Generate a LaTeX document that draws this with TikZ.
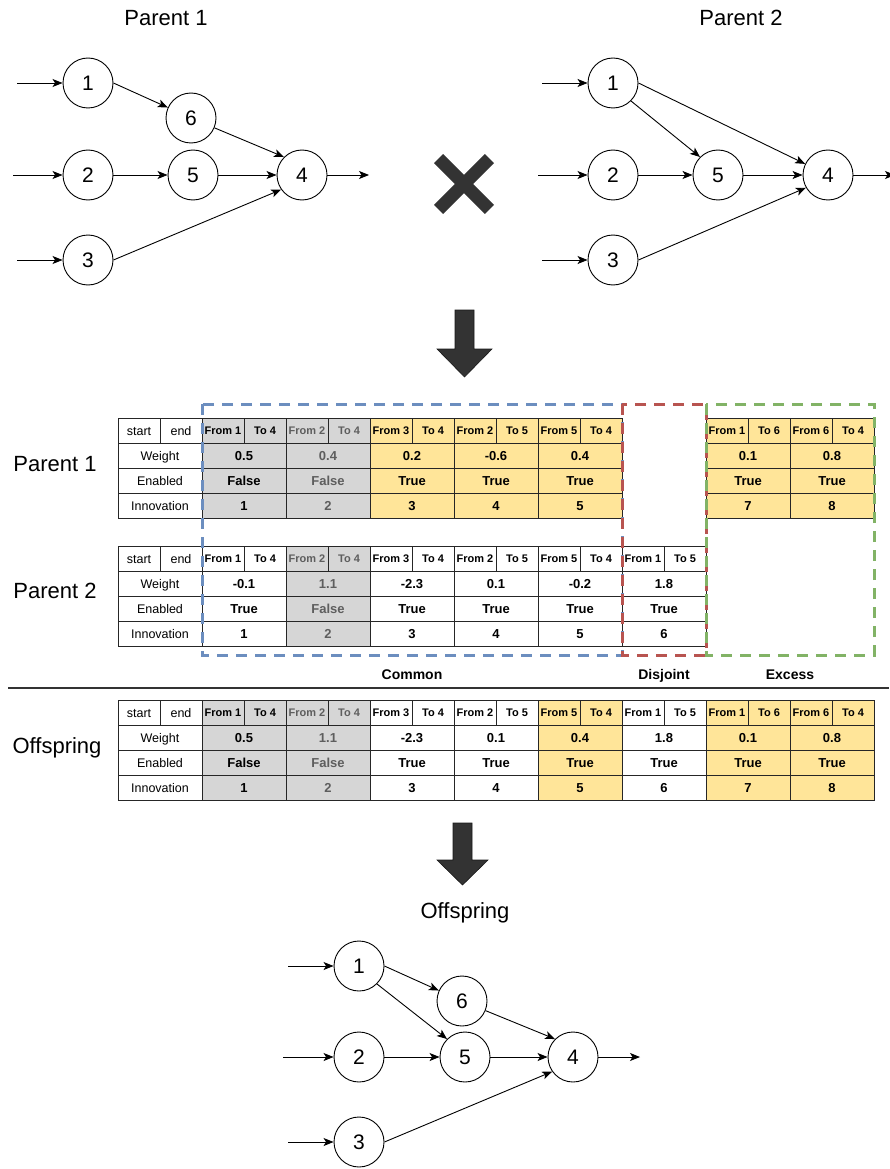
\documentclass[tikz,border=0pt]{standalone}
\usepackage{fontspec}
\setmainfont{Liberation Sans}
\usetikzlibrary{arrows.meta}
\definecolor{cgray}{HTML}{D6D6D6}
\definecolor{cyel}{HTML}{FFE599}
\definecolor{gtext}{HTML}{5E5E5E}
\definecolor{dblue}{HTML}{6C8EBF}
\definecolor{dred}{HTML}{B85450}
\definecolor{dgreen}{HTML}{82B366}
\definecolor{dark}{HTML}{333333}

\tikzset{
 neuron/.style={circle, draw=black, line width=0.9pt, minimum size=50pt, inner sep=0pt, font=\fontsize{21}{24}\selectfont, fill=white},
 link/.style={draw=black, line width=0.9pt, -{Stealth[length=10pt,width=8pt,inset=2.5pt]}},
 title/.style={font=\fontsize{22}{26}\selectfont, inner sep=0pt, anchor=base},
 cellbase/.style={draw=black!85, line width=0.9pt, inner sep=0pt, outer sep=0pt, minimum height=25pt, text depth=0pt},
 hcell/.style={cellbase, minimum width=42pt, font=\bfseries\fontsize{11}{12}\selectfont, text height=7.9pt},
 vcell/.style={cellbase, minimum width=84pt, font=\bfseries\fontsize{13}{14}\selectfont, text height=9.3pt},
 lcell/.style={cellbase, minimum width=42pt, font=\fontsize{12.5}{14}\selectfont, text height=9pt},
 lwide/.style={cellbase, minimum width=84pt, font=\fontsize{12.5}{14}\selectfont, text height=9pt},
 gcell/.style={fill=cgray},
 ycell/.style={fill=cyel},
 wcell/.style={fill=white},
 gtxt/.style={fill=cgray, text=gtext},
 region/.style={line width=3pt, dash pattern=on 11pt off 8pt},
 grouplabel/.style={font=\bfseries\fontsize{14}{16}\selectfont, inner sep=0pt, anchor=base},
 bigarrow/.style={fill=dark, draw=black!90, line width=0.6pt},
}

\newcommand{\gpair}[9]{%
 \node[hcell,#9] (#1f) at ({#2+21},{#3+12.5}) {#4};
 \node[hcell,#9] (#1t) at ({#2+63},{#3+12.5}) {#5};
 \node[vcell,#9] (#1w) at ({#2+42},{#3+37.5}) {#6};
 \node[vcell,#9] (#1e) at ({#2+42},{#3+62.5}) {#7};
 \node[vcell,#9] (#1i) at ({#2+42},{#3+87.5}) {#8};
}
\newcommand{\lcol}[3]{%
 \node[lcell] (#1s) at ({#2+21},{#3+12.5}) {start};
 \node[lcell] (#1n) at ({#2+63},{#3+12.5}) {end};
 \node[lwide] (#1w) at ({#2+42},{#3+37.5}) {Weight};
 \node[lwide] (#1e) at ({#2+42},{#3+62.5}) {Enabled};
 \node[lwide] (#1i) at ({#2+42},{#3+87.5}) {Innovation};
}

\begin{document}
\begin{tikzpicture}[x=1pt,y=-1pt]
\useasboundingbox (0,0) rectangle (889,1169);

% ---------- Parent 1 graph ----------
\node[title] (tp1) at (166,26) {Parent 1};
\node[neuron] (a1) at (88,83) {1};
\node[neuron] (a6) at (191,118) {6};
\node[neuron] (a2) at (88,175) {2};
\node[neuron] (a5) at (193,175) {5};
\node[neuron] (a4) at (302,175) {4};
\node[neuron] (a3) at (88,260) {3};
\coordinate (ai1) at (17,83);
\coordinate (ai2) at (13,175);
\coordinate (ai3) at (17,260);
\coordinate (ao) at (369,175);
\draw[link] (ai1) -- (a1);
\draw[link] (ai2) -- (a2);
\draw[link] (ai3) -- (a3);
\draw[link] (a1.east) -- (a6);
\draw[link] (a6) -- (a4.north west);
\draw[link] (a2) -- (a5);
\draw[link] (a5) -- (a4);
\draw[link] (a3.east) -- (a4.215);
\draw[link] (a4) -- (ao);

% ---------- cross ----------
\draw[dark, line width=13pt] (438.6,158.6) -- (489.4,209.4);
\draw[dark, line width=13pt] (489.4,158.6) -- (438.6,209.4);

% ---------- Parent 2 graph ----------
\node[title] (tp2) at (741,26) {Parent 2};
\node[neuron] (b1) at (613,83) {1};
\node[neuron] (b2) at (613,175) {2};
\node[neuron] (b5) at (718,175) {5};
\node[neuron] (b4) at (828,175) {4};
\node[neuron] (b3) at (613,260) {3};
\coordinate (bi1) at (542,83);
\coordinate (bi2) at (538,175);
\coordinate (bi3) at (542,260);
\coordinate (bo) at (895,175);
\draw[link] (bi1) -- (b1);
\draw[link] (bi2) -- (b2);
\draw[link] (bi3) -- (b3);
\draw[link] (b1.south east) -- (b5.north west);
\draw[link] (b1.east) -- (b4);
\draw[link] (b2) -- (b5);
\draw[link] (b5) -- (b4);
\draw[link] (b3.east) -- (b4.210);
\draw[link] (b4) -- (bo);

% ---------- down arrow 1 ----------
\filldraw[bigarrow] (455,310) -- (474,310) -- (474,349) -- (492,349) -- (464.5,377) -- (437,349) -- (455,349) -- cycle;

% ---------- row titles ----------
\node[title] (r1) at (55,471) {Parent 1};
\node[title] (r2) at (55,598) {Parent 2};
\node[title] (r3) at (57,753) {Offspring};

% ---------- Parent 1 table ----------
\lcol{la}{118}{418.5}
\gpair{pa1}{202}{418.5}{From 1}{To 4}{0.5}{False}{1}{gcell}
\gpair{pa2}{286}{418.5}{From 2}{To 4}{0.4}{False}{2}{gtxt}
\gpair{pa3}{370}{418.5}{From 3}{To 4}{0.2}{True}{3}{ycell}
\gpair{pa4}{454}{418.5}{From 2}{To 5}{-0.6}{True}{4}{ycell}
\gpair{pa5}{538}{418.5}{From 5}{To 4}{0.4}{True}{5}{ycell}
\gpair{pa7}{706}{418.5}{From 1}{To 6}{0.1}{True}{7}{ycell}
\gpair{pa8}{790}{418.5}{From 6}{To 4}{0.8}{True}{8}{ycell}

% ---------- Parent 2 table ----------
\lcol{lb}{118}{546}
\gpair{pb1}{202}{546}{From 1}{To 4}{-0.1}{True}{1}{wcell}
\gpair{pb2}{286}{546}{From 2}{To 4}{1.1}{False}{2}{gtxt}
\gpair{pb3}{370}{546}{From 3}{To 4}{-2.3}{True}{3}{wcell}
\gpair{pb4}{454}{546}{From 2}{To 5}{0.1}{True}{4}{wcell}
\gpair{pb5}{538}{546}{From 5}{To 4}{-0.2}{True}{5}{wcell}
\gpair{pb6}{622}{546}{From 1}{To 5}{1.8}{True}{6}{wcell}

% ---------- group regions ----------
\draw[region, dblue] (202,404) rectangle (622,655);
\draw[region, dred] (622,404) rectangle (706,655);
\draw[region, dgreen] (706,404) rectangle (874,655);
\node[grouplabel] (gcommon) at (412,679) {Common};
\node[grouplabel] (gdisj) at (664,679) {Disjoint};
\node[grouplabel] (gexc) at (790,679) {Excess};

% ---------- separator ----------
\draw[dark, line width=1.2pt] (8,688) -- (889,688);

% ---------- Offspring table ----------
\lcol{lc}{118}{700}
\gpair{pc1}{202}{700}{From 1}{To 4}{0.5}{False}{1}{gcell}
\gpair{pc2}{286}{700}{From 2}{To 4}{1.1}{False}{2}{gtxt}
\gpair{pc3}{370}{700}{From 3}{To 4}{-2.3}{True}{3}{wcell}
\gpair{pc4}{454}{700}{From 2}{To 5}{0.1}{True}{4}{wcell}
\gpair{pc5}{538}{700}{From 5}{To 4}{0.4}{True}{5}{ycell}
\gpair{pc6}{622}{700}{From 1}{To 5}{1.8}{True}{6}{wcell}
\gpair{pc7}{706}{700}{From 1}{To 6}{0.1}{True}{7}{ycell}
\gpair{pc8}{790}{700}{From 6}{To 4}{0.8}{True}{8}{ycell}

% ---------- down arrow 2 ----------
\filldraw[bigarrow] (453,823) -- (472,823) -- (472,860) -- (488,860) -- (462.5,885) -- (437,860) -- (453,860) -- cycle;

% ---------- Offspring graph ----------
\node[title] (tof) at (465,918) {Offspring};
\node[neuron] (c1) at (359,966) {1};
\node[neuron] (c6) at (462,1001) {6};
\node[neuron] (c2) at (359,1057) {2};
\node[neuron] (c5) at (465,1057) {5};
\node[neuron] (c4) at (573,1057) {4};
\node[neuron] (c3) at (359,1142) {3};
\coordinate (ci1) at (288,966);
\coordinate (ci2) at (283,1057);
\coordinate (ci3) at (288,1142);
\coordinate (co) at (640,1057);
\draw[link] (ci1) -- (c1);
\draw[link] (ci2) -- (c2);
\draw[link] (ci3) -- (c3);
\draw[link] (c1.east) -- (c6);
\draw[link] (c1.south east) -- (c5.north west);
\draw[link] (c6) -- (c4.north west);
\draw[link] (c2) -- (c5);
\draw[link] (c5) -- (c4);
\draw[link] (c3.east) -- (c4.215);
\draw[link] (c4) -- (co);
\end{tikzpicture}
\end{document}
